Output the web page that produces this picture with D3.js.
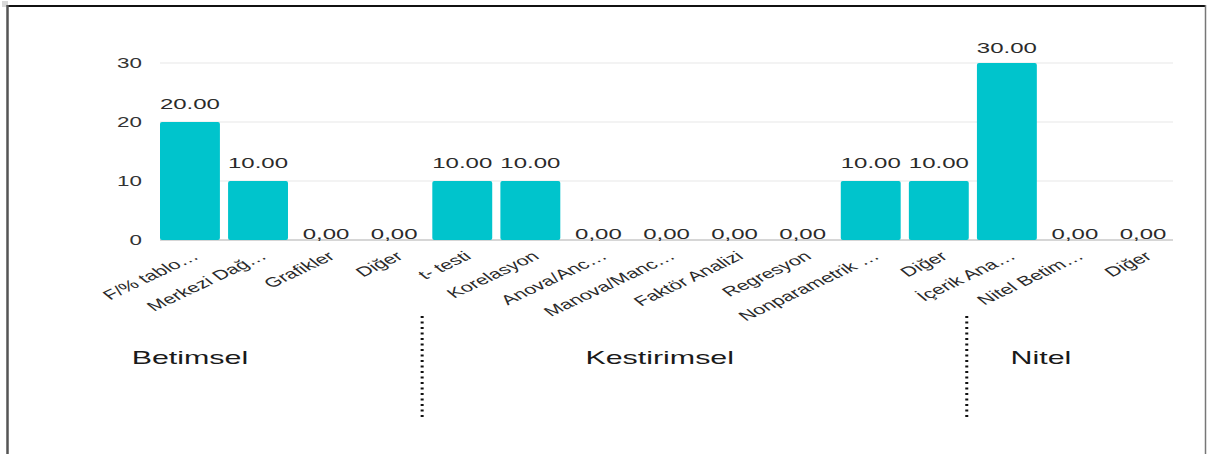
<!DOCTYPE html>
<html>
<head>
<meta charset="utf-8">
<script src="https://cdn.jsdelivr.net/npm/d3@7"></script>
<style>
  body { margin: 0; background: #fff; }
  text { font-family: "Liberation Sans", Arial, sans-serif; }
</style>
</head>
<body>
<script>
// categories (x axis, in order)
var categories = ["F/% tablo…", "Merkezi Dağ…", "Grafikler", "Diğer", "t- testi", "Korelasyon",
  "Anova/Anc…", "Manova/Manc…", "Faktör Analizi", "Regresyon", "Nonparametrik …", "Diğer",
  "İçerik Ana…", "Nitel Betim…", "Diğer"];
var values = [20, 10, 0, 0, 10, 10, 0, 0, 0, 0, 10, 10, 30, 0, 0];
var valueLabels = ["20.00", "10.00", "0,00", "0,00", "10.00", "10.00", "0,00", "0,00", "0,00", "0,00",
  "10.00", "10.00", "30.00", "0,00", "0,00"];
var yTicks = [0, 10, 20, 30];
// groups
var groupNames = ["Betimsel", "Kestirimsel", "Nitel"];
var groupLabelAt = [0, 6.9, 12.5];   // category position the group name is centred on
var dividerAfter = [3, 11];          // dotted line after these categories

var W = 1209, H = 454;
var sx = 1.6; // the picture is stretched horizontally
var plotLeft = 160, plotRight = 1173, plotTop = 63, plotBase = 240;

var svg = d3.select("body").append("svg")
  .attr("width", W)
  .attr("height", H);

// frame
svg.append("rect").attr("x", 2).attr("y", 1).attr("width", 6).attr("height", 6).attr("fill", "#d8d8d8");
svg.append("line").attr("x1", 7).attr("x2", 1206).attr("y1", 6).attr("y2", 6)
  .attr("stroke", "#111").attr("stroke-width", 2);
svg.append("line").attr("x1", 7.5).attr("x2", 7.5).attr("y1", 5).attr("y2", H)
  .attr("stroke", "#555").attr("stroke-width", 2.5);
svg.append("line").attr("x1", 1205.5).attr("x2", 1205.5).attr("y1", 5).attr("y2", H)
  .attr("stroke", "#777").attr("stroke-width", 1.5);

var x = d3.scaleBand()
  .domain(d3.range(categories.length))
  .range([plotLeft, plotRight])
  .paddingInner(0.12)
  .paddingOuter(0);

var y = d3.scaleLinear()
  .domain([0, 30])
  .range([plotBase, plotTop]);

// grid
svg.selectAll("line.grid")
  .data(yTicks)
  .enter()
  .append("line")
  .attr("class", "grid")
  .attr("x1", plotLeft)
  .attr("x2", plotRight)
  .attr("y1", function(d) { return y(d); })
  .attr("y2", function(d) { return y(d); })
  .attr("stroke", function(d) { return d === 0 ? "#d6d6d6" : "#e8e8e8"; })
  .attr("stroke-width", function(d) { return d === 0 ? 2 : 1.2; });

// y tick labels
svg.selectAll("text.ytick")
  .data(yTicks)
  .enter()
  .append("text")
  .attr("class", "ytick")
  .attr("transform", function(d) { return "translate(142," + (y(d) + 5) + ") scale(" + sx + ",1)"; })
  .attr("text-anchor", "end")
  .attr("font-size", 14)
  .attr("fill", "#333")
  .text(function(d) { return d; });

// bars
svg.selectAll("rect.bar")
  .data(values)
  .enter()
  .append("rect")
  .attr("class", "bar")
  .attr("x", function(d, i) { return x(i); })
  .attr("y", function(d) { return y(d); })
  .attr("width", x.bandwidth())
  .attr("height", function(d) { return plotBase - y(d); })
  .attr("rx", 2)
  .attr("fill", "#00c4cc");

// value labels
svg.selectAll("text.val")
  .data(values)
  .enter()
  .append("text")
  .attr("class", "val")
  .attr("transform", function(d, i) {
    var ty = d === 0 ? plotBase - 1 : Math.max(y(d) - 13, plotTop - 10);
    return "translate(" + (x(i) + x.bandwidth() / 2) + "," + ty + ") scale(" + sx + ",1)";
  })
  .attr("text-anchor", "middle")
  .attr("font-size", 15)
  .attr("fill", "#2a2a2a")
  .text(function(d, i) { return valueLabels[i]; });

// category labels
svg.selectAll("text.cat")
  .data(categories)
  .enter()
  .append("text")
  .attr("class", "cat")
  .attr("transform", function(d, i) {
    return "translate(" + (x(i) + x.bandwidth() / 2 + 10) + ",258) scale(" + sx + ",1) rotate(-37)";
  })
  .attr("text-anchor", "end")
  .attr("font-size", 13.5)
  .attr("fill", "#2a2a2a")
  .text(function(d) { return d; });

// dotted group dividers
svg.selectAll("line.div")
  .data(dividerAfter)
  .enter()
  .append("line")
  .attr("class", "div")
  .attr("x1", function(d) { return x(d) + x.bandwidth() - 2; })
  .attr("x2", function(d) { return x(d) + x.bandwidth() - 2; })
  .attr("y1", 316)
  .attr("y2", 419)
  .attr("stroke", "#111")
  .attr("stroke-width", 3)
  .attr("stroke-dasharray", "2,3.5");

// group names
svg.selectAll("text.grp")
  .data(groupNames)
  .enter()
  .append("text")
  .attr("class", "grp")
  .attr("transform", function(d, i) {
    var cx = x(0) + groupLabelAt[i] * x.step() + x.bandwidth() / 2;
    return "translate(" + cx + ",364) scale(" + sx + ",1)";
  })
  .attr("text-anchor", "middle")
  .attr("font-size", 19)
  .attr("fill", "#1a1a1a")
  .text(function(d) { return d; });
</script>
</body>
</html>
